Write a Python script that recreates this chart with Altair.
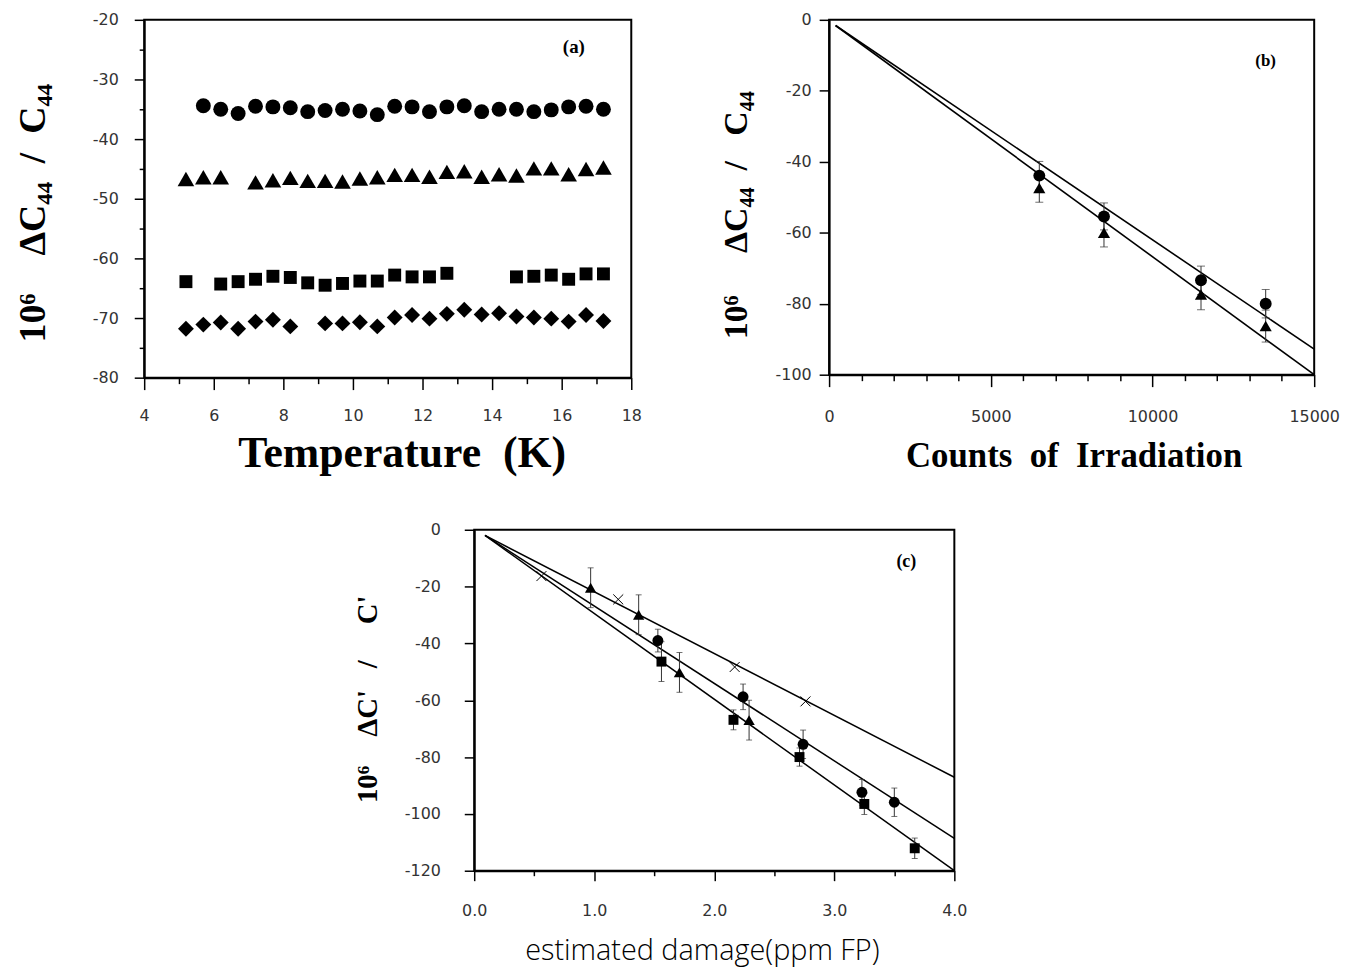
import altair as alt
import pandas as pd

# ---------------- Panel (a) ----------------
a_circle_T = [5.7, 6.2, 6.7, 7.2, 7.7, 8.2, 8.7, 9.2, 9.7, 10.2, 10.7, 11.2, 11.7, 12.2,
              12.7, 13.2, 13.7, 14.2, 14.7, 15.2, 15.7, 16.2, 16.7, 17.2]
a_circle_v = [-34.4, -35.0, -35.7, -34.5, -34.6, -34.75, -35.4, -35.2, -35.0, -35.3, -35.9, -34.5,
              -34.6, -35.4, -34.6, -34.4, -35.4, -35.0, -35.0, -35.4, -35.1, -34.6, -34.5, -35.0]
a_tri_T = [5.2, 5.7, 6.2, 7.2, 7.7, 8.2, 8.7, 9.2, 9.7, 10.2, 10.7, 11.2, 11.7, 12.2,
           12.7, 13.2, 13.7, 14.2, 14.7, 15.2, 15.7, 16.2, 16.7, 17.2]
a_tri_v = [-46.7, -46.4, -46.4, -47.25, -46.9, -46.5, -47.0, -47.0, -47.1, -46.6, -46.4, -46.0,
           -46.0, -46.3, -45.5, -45.4, -46.3, -45.9, -46.1, -44.9, -44.9, -45.9, -45.0, -44.75]
a_sq_T = [5.2, 6.2, 6.7, 7.2, 7.7, 8.2, 8.7, 9.2, 9.7, 10.2, 10.7, 11.2, 11.7, 12.2,
          12.7, 14.7, 15.2, 15.7, 16.2, 16.7, 17.2]
a_sq_v = [-63.9, -64.3, -63.9, -63.5, -63.0, -63.2, -64.1, -64.5, -64.2, -63.8, -63.8, -62.8,
          -63.1, -63.1, -62.5, -63.1, -63.0, -62.8, -63.5, -62.6, -62.6]
a_dia_T = [5.2, 5.7, 6.2, 6.7, 7.2, 7.7, 8.2, 9.2, 9.7, 10.2, 10.7, 11.2, 11.7, 12.2,
           12.7, 13.2, 13.7, 14.2, 14.7, 15.2, 15.7, 16.2, 16.7, 17.2]
a_dia_v = [-71.8, -71.1, -70.75, -71.8, -70.6, -70.3, -71.4, -70.9, -70.9, -70.7, -71.4, -69.9,
           -69.5, -70.1, -69.3, -68.6, -69.4, -69.2, -69.75, -69.9, -70.1, -70.6, -69.5, -70.5]
a_x_ticks = [4, 5, 6, 7, 8, 9, 10, 11, 12, 13, 14, 15, 16, 17, 18]
a_y_ticks = [-80, -75, -70, -65, -60, -55, -50, -45, -40, -35, -30, -25, -20]

# ---------------- Panel (b) ----------------
b_counts = [6500, 8500, 11500, 13500]
b_circle_v = [-43.9, -55.4, -73.4, -80.0]
b_circle_err = [4.0, 3.8, 4.0, 4.0]
b_tri_v = [-47.4, -60.0, -77.4, -86.3]
b_tri_err = [4.0, 4.0, 4.3, 4.5]
b_line_x = [200, 15000]
b_line_upper = [-1.6, -92.8]
b_line_lower = [-1.6, -100.0]
b_x_ticks = [0, 1000, 2000, 3000, 4000, 5000, 6000, 7000, 8000, 9000, 10000,
             11000, 12000, 13000, 14000, 15000]
b_y_ticks = [-100, -90, -80, -70, -60, -50, -40, -30, -20, -10, 0]

# ---------------- Panel (c) ----------------
c_cross_x = [0.56, 1.20, 2.17, 2.76]
c_cross_v = [-16.3, -24.5, -48.3, -60.4]
c_tri_x = [0.97, 1.37, 1.71, 2.29]
c_tri_v = [-20.4, -29.9, -50.2, -67.0]
c_tri_err = [7.0, 7.0, 7.0, 7.0]
c_circ_x = [1.53, 2.24, 2.74, 3.23, 3.50]
c_circ_v = [-39.0, -58.8, -75.5, -92.4, -95.9]
c_circ_err = [4.0, 4.5, 5.0, 4.5, 5.0]
c_sq_x = [1.56, 2.16, 2.71, 3.25, 3.67]
c_sq_v = [-46.4, -66.9, -80.0, -96.5, -112.1]
c_sq_err = [7.0, 3.5, 3.2, 3.7, 3.6]
c_line_x = [0.09, 4.0]
c_line_cross = [-2.0, -87.1]
c_line_circ = [-2.0, -108.6]
c_line_sq = [-2.0, -120.0]
c_x_ticks = [0, 0.5, 1.0, 1.5, 2.0, 2.5, 3.0, 3.5, 4.0]
c_y_ticks = [-120, -110, -100, -90, -80, -70, -60, -50, -40, -30, -20, -10, 0]

SERIF = "Liberation Serif"
SANS = "DejaVu Sans"
NB = "\u00a0"
MINUS = "replace(datum.label, '\u2212', '-')"

title_a_y = f"10\u2076{NB*4}\u0394C\u2084\u2084{NB*2}/{NB*2}C\u2084\u2084"
title_b_y = f"10\u2076{NB*5}\u0394C\u2084\u2084{NB*2}/{NB*3}C\u2084\u2084"
title_c_y = f"10\u2076{NB*4}\u0394C'{NB*3}/{NB*5}C'"
title_a_x = f"Temperature{NB*2}(K)"
title_b_x = f"Counts{NB*2}of{NB*2}Irradiation"
title_c_x = "estimated damage(ppm FP)"


def xaxis(values, major_test, title, title_font, title_size, title_weight,
          label_pad, title_pad, title_x, fmt=None, major_len=12, minor_len=6):
    kw = dict(
        values=values,
        labelExpr=f"({major_test}) ? {MINUS} : ''",
        tickSize={"condition": {"test": major_test, "value": major_len}, "value": minor_len},
        tickColor="black", tickWidth=1.5,
        domainColor="black", domainWidth=2,
        labelFont=SANS, labelFontSize=16, labelColor="#333",
        labelPadding=label_pad, labelFlush=False,
        title=title, titleFont=title_font, titleFontSize=title_size,
        titleFontWeight=title_weight, titleColor="black", titlePadding=title_pad,
        titleX=title_x, titleAlign="center",
        grid=False,
    )
    if fmt:
        kw["format"] = fmt
    return alt.Axis(**kw)


def yaxis(values, major_test, title, title_size, label_pad, title_pad, title_y,
          major_len=10, minor_len=5):
    return alt.Axis(
        values=values,
        labelExpr=f"({major_test}) ? {MINUS} : ''",
        tickSize={"condition": {"test": major_test, "value": major_len}, "value": minor_len},
        tickColor="black", tickWidth=1.5,
        domainColor="black", domainWidth=2,
        labelFont=SANS, labelFontSize=16, labelColor="#333",
        labelPadding=label_pad,
        title=title, titleFont=SERIF, titleFontSize=title_size,
        titleFontWeight="bold", titleColor="black", titlePadding=title_pad,
        titleY=title_y, titleAlign="center",
        grid=False,
    )


def points(df, xs, ys, shape, size, filled=True, stroke_width=1):
    return alt.Chart(df).mark_point(
        shape=shape, filled=filled, size=size, color="black", opacity=1,
        strokeWidth=stroke_width,
    ).encode(x=xs, y=ys)


def errbars(df, xs, cap=7):
    rule = alt.Chart(df).mark_rule(color="#333", strokeWidth=1).encode(
        x=xs, y=alt.Y("lo:Q"), y2=alt.Y2("hi:Q"))
    top = alt.Chart(df).mark_tick(orient="horizontal", size=cap, thickness=1, color="#333").encode(
        x=xs, y=alt.Y("hi:Q"))
    bot = alt.Chart(df).mark_tick(orient="horizontal", size=cap, thickness=1, color="#333").encode(
        x=xs, y=alt.Y("lo:Q"))
    return rule + top + bot


def with_err(xs, vs, es):
    return pd.DataFrame({"x": xs, "y": vs,
                         "lo": [v - e for v, e in zip(vs, es)],
                         "hi": [v + e for v, e in zip(vs, es)]})


# ---------- build panel (a) ----------
ax_x = alt.X("x:Q", scale=alt.Scale(domain=[4, 18], nice=False),
             axis=xaxis(a_x_ticks, "datum.value % 2 === 0", title_a_x, SERIF, 44,
                        "bold", 18, 8, 259))
ax_y = alt.Y("y:Q", scale=alt.Scale(domain=[-80, -20], nice=False),
             axis=yaxis(a_y_ticks, "datum.value % 10 === 0", title_a_y, 38, 16, 40, 194))

dfa_c = pd.DataFrame({"x": a_circle_T, "y": a_circle_v})
dfa_t = pd.DataFrame({"x": a_tri_T, "y": a_tri_v})
dfa_s = pd.DataFrame({"x": a_sq_T, "y": a_sq_v})
dfa_d = pd.DataFrame({"x": a_dia_T, "y": a_dia_v})
dfa_lab = pd.DataFrame({"x": [16.35], "y": [-24.6], "t": ["(a)"]})

panel_a = alt.layer(
    points(dfa_c, ax_x, ax_y, "circle", 225),
    points(dfa_t, ax_x, ax_y, "triangle-up", 280),
    points(dfa_s, ax_x, ax_y, "square", 169),
    points(dfa_d, ax_x, ax_y, "diamond", 256),
    alt.Chart(dfa_lab).mark_text(font=SERIF, fontWeight="bold", fontSize=19, color="black").encode(
        x=ax_x, y=ax_y, text="t:N"),
).properties(width=490, height=360)

# ---------- build panel (b) ----------
bx = alt.X("x:Q", scale=alt.Scale(domain=[0, 15000], nice=False),
           axis=xaxis(b_x_ticks, "datum.value % 5000 === 0", title_b_x, SERIF, 35,
                      "bold", 22, 14, 246, fmt="d"))
by = alt.Y("y:Q", scale=alt.Scale(domain=[-100, 0], nice=False),
           axis=yaxis(b_y_ticks, "datum.value % 20 === 0", title_b_y, 34, 8, 22, 196))

dfb_lines = pd.DataFrame({
    "x": b_line_x + b_line_x,
    "y": b_line_upper + b_line_lower,
    "g": ["upper"] * 2 + ["lower"] * 2,
})
dfb_c = with_err(b_counts, b_circle_v, b_circle_err)
dfb_t = with_err(b_counts, b_tri_v, b_tri_err)
dfb_lab = pd.DataFrame({"x": [13500], "y": [-11.5], "t": ["(b)"]})

panel_b = alt.layer(
    alt.Chart(dfb_lines).mark_line(color="black", strokeWidth=1.6).encode(
        x=bx, y=by, detail="g:N"),
    errbars(dfb_c, bx, cap=8),
    errbars(dfb_t, bx, cap=8),
    points(dfb_c, bx, by, "circle", 144),
    points(dfb_t, bx, by, "triangle-up", 150),
    alt.Chart(dfb_lab).mark_text(font=SERIF, fontWeight="bold", fontSize=17, color="black").encode(
        x=bx, y=by, text="t:N"),
).properties(width=488, height=357)

# ---------- build panel (c) ----------
cx = alt.X("x:Q", scale=alt.Scale(domain=[0, 4], nice=False),
           axis=xaxis(c_x_ticks, "datum.value % 1 === 0", title_c_x, "Open Sans", 29,
                      300, 22, 18, 229, fmt=".1f", major_len=10, minor_len=5))
cy = alt.Y("y:Q", scale=alt.Scale(domain=[-120, 0], nice=False),
           axis=yaxis(c_y_ticks, "datum.value % 20 === 0", title_c_y, 29, 24, 22, 170))

dfc_lines = pd.DataFrame({
    "x": c_line_x * 3,
    "y": c_line_cross + c_line_circ + c_line_sq,
    "g": ["cross"] * 2 + ["circ"] * 2 + ["sq"] * 2,
})
dfc_x = pd.DataFrame({"x": c_cross_x, "y": c_cross_v})
dfc_t = with_err(c_tri_x, c_tri_v, c_tri_err)
dfc_c = with_err(c_circ_x, c_circ_v, c_circ_err)
dfc_s = with_err(c_sq_x, c_sq_v, c_sq_err)
dfc_lab = pd.DataFrame({"x": [3.6], "y": [-11.5], "t": ["(c)"]})

panel_c = alt.layer(
    alt.Chart(dfc_lines).mark_line(color="black", strokeWidth=1.5).encode(
        x=cx, y=cy, detail="g:N"),
    errbars(dfc_t, cx, cap=6),
    errbars(dfc_c, cx, cap=6),
    errbars(dfc_s, cx, cap=6),
    points(dfc_x, cx, cy, "M-1,-1L1,1M-1,1L1,-1", 100, filled=False, stroke_width=1),
    points(dfc_t, cx, cy, "triangle-up", 130),
    points(dfc_c, cx, cy, "circle", 121),
    points(dfc_s, cx, cy, "square", 100),
    alt.Chart(dfc_lab).mark_text(font=SERIF, fontWeight="bold", fontSize=18, color="black").encode(
        x=cx, y=cy, text="t:N"),
).properties(width=483, height=343)

# invisible spacer that pushes panel (c) to the right
spacer = alt.Chart(pd.DataFrame({"x": [0]})).mark_point(opacity=0).encode(
    x=alt.X("x:Q", axis=None)
).properties(width=209, height=10, view=alt.ViewBackground(strokeOpacity=0))

top_row = alt.hconcat(panel_a, panel_b, spacing=75)
bottom_row = alt.hconcat(spacer, panel_c, spacing=0)
chart = alt.vconcat(top_row, bottom_row, spacing=45).properties(
    padding={"left": 5, "top": 0, "right": 5, "bottom": 5}
).configure(background="white").configure_view(stroke="black", strokeWidth=2)

chart.save("out.html", embed_options={"renderer": "svg", "actions": False})
